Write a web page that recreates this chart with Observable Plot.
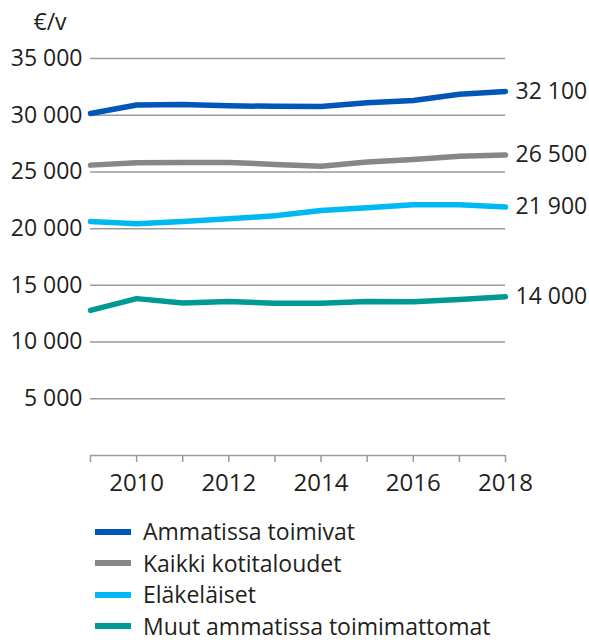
<!DOCTYPE html>
<html>
<head>
<meta charset="utf-8">
<script src="https://cdn.jsdelivr.net/npm/d3@7"></script>
<script src="https://cdn.jsdelivr.net/npm/@observablehq/plot@0.6"></script>
<style>
  body { margin: 0; background: #fff; font-family: "Open Sans", sans-serif; color: #231f20; }
  #chart { width: 589px; }
  #chart svg { display: block; }
  .legend { margin-top: 11px; padding-left: 95px; }
  .item { height: 31.5px; display: flex; align-items: center; font-size: 23px; line-height: 1; white-space: nowrap; color: #231f20; }
  .sw { width: 36px; height: 6px; margin-right: 12px; flex: none; }
</style>
</head>
<body>
<div id="chart"></div>
<script>
const years = [2009, 2010, 2011, 2012, 2013, 2014, 2015, 2016, 2017, 2018];
const seriesNames = ["Ammatissa toimivat", "Kaikki kotitaloudet", "Eläkeläiset", "Muut ammatissa toimimattomat"];
const ammatissa = [30150, 30900, 30950, 30830, 30780, 30770, 31100, 31300, 31850, 32100];
const kaikki = [25600, 25810, 25840, 25840, 25660, 25510, 25870, 26100, 26390, 26500];
const elakelaiset = [20630, 20430, 20630, 20870, 21130, 21600, 21840, 22100, 22100, 21900];
const muut = [12790, 13830, 13440, 13580, 13430, 13430, 13580, 13560, 13760, 14000];
const endLabels = ["32 100", "26 500", "21 900", "14 000"];
const colors = ["#0057b8", "#878787", "#00b9f2", "#009a93"];
const yTicks = [5000, 10000, 15000, 20000, 25000, 30000, 35000];
const unitLabel = "€/v";

const allValues = [ammatissa, kaikki, elakelaiset, muut];
const data = [];
allValues.forEach((vals, s) => vals.forEach((v, i) => data.push({ series: seriesNames[s], year: years[i], value: v })));
const ends = seriesNames.map((name, s) => ({ series: name, year: years[years.length - 1], value: allValues[s][years.length - 1], label: endLabels[s] }));

const fmt = d => d3.format(",")(d).replace(/,/g, " ");

const plot = Plot.plot({
  width: 589,
  height: 505,
  marginLeft: 90,
  marginRight: 84,
  marginTop: 58,
  marginBottom: 50,
  style: { fontFamily: "Open Sans, sans-serif", color: "#231f20", background: "#fff" },
  x: { domain: [2009, 2018] },
  y: { domain: [0, 35000] },
  color: { domain: seriesNames, range: colors },
  marks: [
    Plot.ruleY(yTicks, { stroke: "#9a9a9a", strokeWidth: 1.5 }),
    Plot.ruleY([0], { stroke: "#9a9a9a", strokeWidth: 1.5 }),
    Plot.axisY({ ticks: yTicks, tickSize: 0, tickPadding: 8, tickFormat: fmt, fontSize: 23, label: null }),
    Plot.axisX({ ticks: years, tickSize: 7, tickPadding: 11, stroke: "#9a9a9a", strokeWidth: 1.5,
      tickFormat: d => d % 2 === 0 ? String(d) : "", fontSize: 24, label: null, style: "letter-spacing:-0.8px" }),
    Plot.line(data, { x: "year", y: "value", z: "series", stroke: "series", strokeWidth: 5.5, strokeLinecap: "round", strokeLinejoin: "round" }),
    Plot.text(ends, { x: "year", y: "value", text: "label", dx: 10, textAnchor: "start", fontSize: 23, fill: "#231f20" }),
    Plot.text([unitLabel], { frameAnchor: "top-left", dx: -57, dy: -45, textAnchor: "start", fontSize: 23, fill: "#231f20" })
  ]
});
const chart = document.getElementById("chart");
chart.appendChild(plot);

const legend = document.createElement("div");
legend.className = "legend";
seriesNames.forEach((name, i) => {
  const it = document.createElement("div");
  it.className = "item";
  const sw = document.createElement("div");
  sw.className = "sw";
  sw.style.background = colors[i];
  const t = document.createElement("span");
  t.textContent = name;
  it.appendChild(sw); it.appendChild(t);
  legend.appendChild(it);
});
chart.appendChild(legend);
</script>
</body>
</html>
